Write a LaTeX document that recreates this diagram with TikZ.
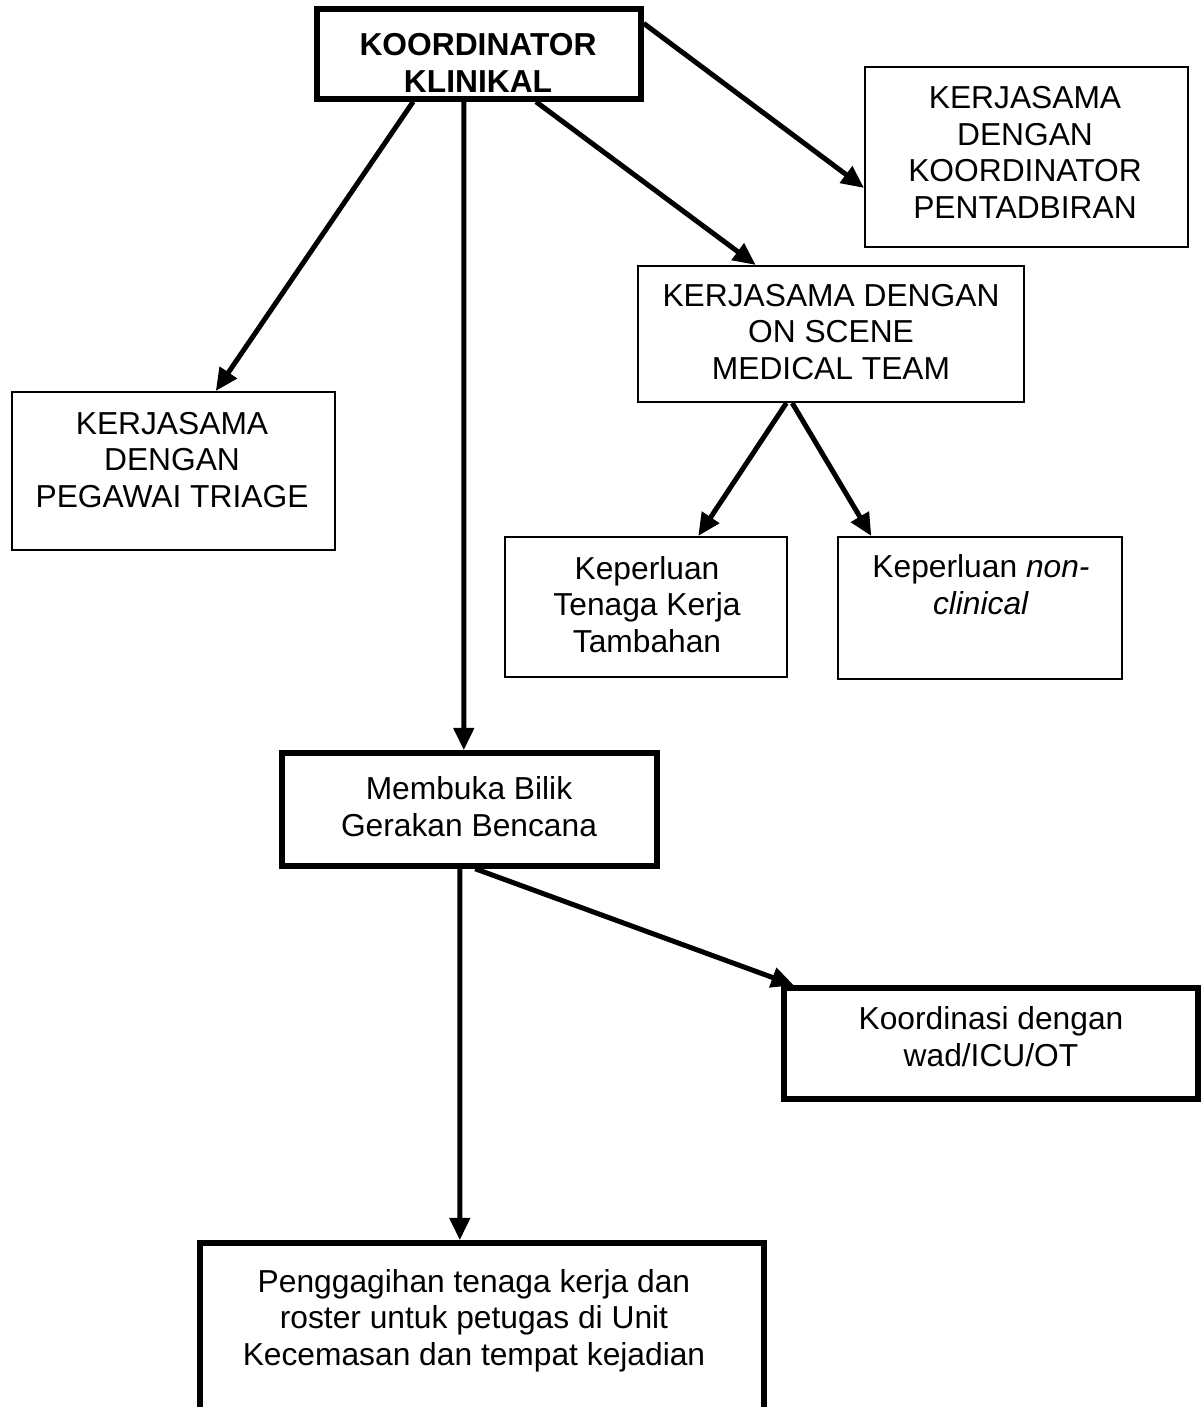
\documentclass[tikz,border=0pt]{standalone}
\usepackage{fontspec}
\setmainfont{Liberation Sans}
\usetikzlibrary{arrows.meta,fit,calc}
\begin{document}
\begin{tikzpicture}[x=0.4pt,y=-0.4pt,
  thinbox/.style={draw, line width=0.8pt, inner sep=0pt},
  thickbox/.style={draw, line width=2.2pt, inner sep=0pt},
  lbl/.style={align=center, font=\fontsize{12.7}{14.6}\selectfont, anchor=base, inner sep=0pt},
  flow/.style={line width=2pt, -{Triangle[length=9pt,width=8pt]}}]
\useasboundingbox (0,0) rectangle (1202,1407);
\clip (0,0) rectangle (1202,1407);

% texts (anchored at the baseline of their last line)
\node[lbl, font=\fontsize{12.7}{14.6}\selectfont\bfseries] (tklin) at (478,92) {KOORDINATOR\\KLINIKAL};
\node[lbl] (tpent) at (1025,218) {KERJASAMA\\DENGAN\\KOORDINATOR\\PENTADBIRAN};
\node[lbl] (tscene) at (831,379) {KERJASAMA DENGAN\\ON SCENE\\MEDICAL TEAM};
\node[lbl] (ttri) at (172,507) {KERJASAMA\\DENGAN\\PEGAWAI TRIAGE};
\node[lbl] (tten) at (647,652) {Keperluan\\Tenaga Kerja\\Tambahan};
\node[lbl] (tnon) at (981,614) {Keperluan \textit{non-}\\\textit{clinical}};
\node[lbl] (tbuka) at (469,836) {Membuka Bilik\\Gerakan Bencana};
\node[lbl] (tkoord) at (991,1066) {Koordinasi dengan\\wad/ICU/OT};
\node[lbl] (tagih) at (474,1365) {Penggagihan tenaga kerja dan\\roster untuk petugas di Unit\\Kecemasan dan tempat kejadian};

% boxes
\node[thickbox, fit={(317,9) (641,99)}] (klin) {};
\node[thinbox, fit={(865,67) (1188,247)}] (pent) {};
\node[thinbox, fit={(638,266) (1024,402)}] (scene) {};
\node[thinbox, fit={(12,392) (335,550)}] (tri) {};
\node[thinbox, fit={(505,537) (787,677)}] (ten) {};
\node[thinbox, fit={(838,537) (1122,679)}] (non) {};
\node[thickbox, fit={(282,753) (657,866)}] (buka) {};
\node[thickbox, fit={(784,988) (1198,1099)}] (koord) {};
\node[thickbox, fit={(200,1243) (764,1460)}] (agih) {};

% connectors
\draw[flow] ($(klin.south west)!0.30!(klin.south east)$) -- ($(tri.north west)!0.63!(tri.north east)$);
\draw[flow] ($(klin.south west)!0.454!(klin.south east)$) -- ($(buka.north west)!0.485!(buka.north east)$);
\draw[flow] ($(klin.south west)!0.673!(klin.south east)$) -- ($(scene.north west)!0.306!(scene.north east)$);
\draw[flow] ($(klin.north east)!0.18!(klin.south east)$) -- ($(pent.north west)!0.67!(pent.south west)$);
\draw[flow] ($(scene.south west)!0.385!(scene.south east)$) -- ($(ten.north west)!0.684!(ten.north east)$);
\draw[flow] ($(scene.south west)!0.40!(scene.south east)$) -- ($(non.north west)!0.12!(non.north east)$);
\draw[flow] ($(buka.south west)!0.475!(buka.south east)$) -- ($(agih.north west)!0.461!(agih.north east)$);
\draw[flow] ($(buka.south west)!0.515!(buka.south east)$) -- ($(koord.north west)!0.03!(koord.north east)$);
\end{tikzpicture}
\end{document}
